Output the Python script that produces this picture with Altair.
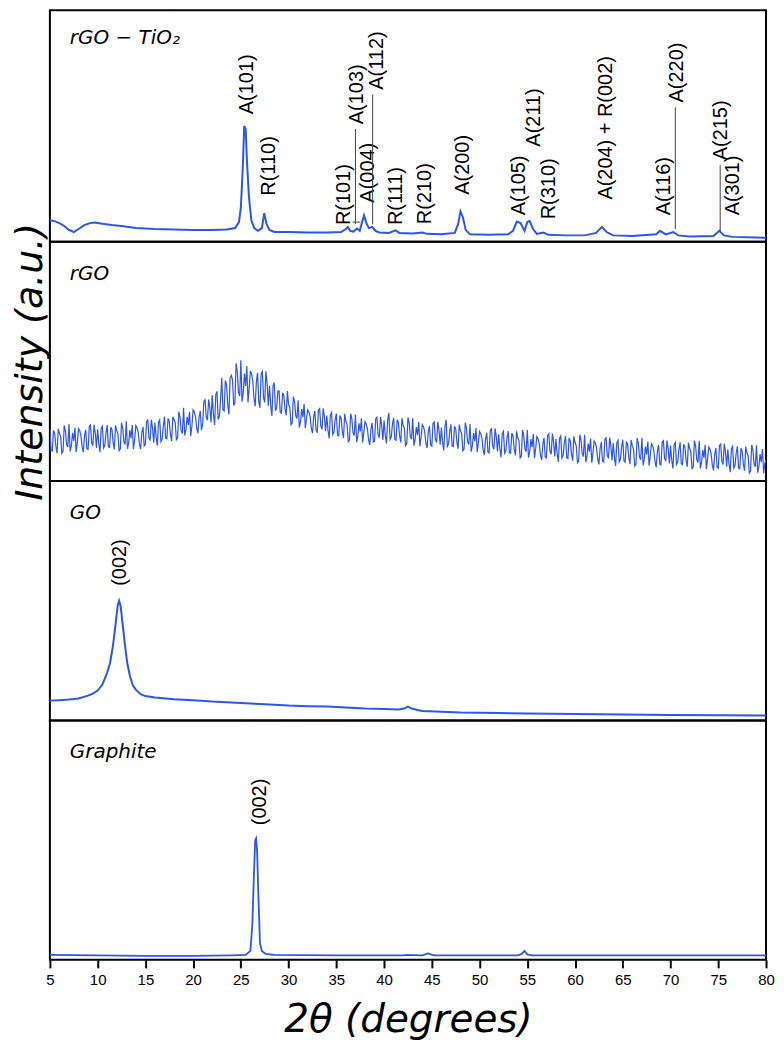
import altair as alt
import pandas as pd

BLUE = "#2d55f0"

# ---------------- x axis ----------------
x_ticks = [5, 10, 15, 20, 25, 30, 35, 40, 45, 50, 55, 60, 65, 70, 75, 80]

# ---------------- rGO - TiO2 ----------------
tio2_x = [5.0, 5.5, 6.0, 6.5, 7.0, 7.5, 8.0, 8.6, 9.2, 9.7, 10.5, 11.5, 12.5, 14.0, 16.0, 18.0,
          20.0, 22.0, 23.5, 24.4, 24.8, 25.0, 25.2, 25.35, 25.5, 25.65, 25.85, 26.1, 26.4, 26.8,
          27.2, 27.45, 27.7, 28.0, 28.5, 30.0, 32.0, 34.0, 35.5, 36.0, 36.2, 36.45, 36.8, 37.15,
          37.45, 37.7, 37.9, 38.15, 38.4, 38.75, 39.1, 39.5, 40.5, 41.2, 41.6, 43.0, 44.0, 44.5,
          46.0, 47.4, 47.75, 48.0, 48.25, 48.55, 49.0, 51.0, 53.0, 53.5, 53.9, 54.3, 54.7, 55.0,
          55.25, 55.6, 56.0, 56.7, 57.2, 59.0, 61.0, 62.2, 62.8, 63.3, 64.0, 66.0, 68.5, 68.9,
          69.5, 70.0, 70.3, 70.8, 72.0, 74.5, 75.1, 75.6, 76.5, 78.0, 80.0]
tio2_y = [9.3, 8.9, 8.05, 6.8, 5.1, 4.2, 5.5, 7.2, 8.05, 8.3, 7.8, 7.2, 6.8, 5.9, 5.5, 5.3,
          5.1, 5.1, 5.3, 5.9, 8.5, 14.8, 31.8, 50.0, 48.7, 33.9, 19.1, 9.3, 5.9, 4.7,
          5.9, 12.3, 7.6, 5.1, 4.2, 4.2, 4.0, 4.0, 4.2, 5.5, 6.4, 4.7, 4.4, 5.7,
          4.7, 8.5, 11.4, 8.05, 5.9, 6.4, 4.7, 4.0, 3.8, 4.9, 3.8, 3.6, 4.0, 3.4,
          3.2, 3.8, 7.6, 13.1, 10.6, 5.1, 3.2, 3.0, 3.2, 4.7, 8.7, 8.05, 4.7, 8.5,
          8.9, 5.5, 3.4, 4.0, 3.0, 2.75, 2.75, 3.8, 6.4, 4.2, 2.75, 2.5, 3.2, 4.7,
          3.2, 3.8, 4.2, 2.75, 2.3, 2.5, 4.7, 2.75, 2.1, 1.9, 1.7]

tio2_labels = ["A(101)", "R(110)", "R(101)", "A(103)", "A(004)", "A(112)", "R(111)", "R(210)",
               "A(200)", "A(105)", "A(211)", "R(310)", "A(204) + R(002)", "A(116)", "A(220)",
               "A(215)", "A(301)"]
tio2_label_x = [25.6, 28.0, 35.85, 37.2, 38.27, 39.3, 41.2, 44.26, 48.3, 54.1, 55.7, 57.3,
                63.2, 69.27, 70.65, 75.3, 76.5]
tio2_label_y = [55.1, 19.9, 7.2, 50.8, 16.9, 65.7, 7.2, 7.6, 20.3, 11.4, 41.1, 9.7,
                18.2, 11.4, 60.2, 35.2, 11.4]

lead_x = [37.0, 38.8, 70.5, 75.2]
lead_top = [48.7, 63.6, 58.1, 33.1]
lead_bottom = [7.6, 7.6, 5.5, 4.2]
dash_x = [36.7]
dash_x2 = [37.5]
dash_y = [8.5]

# ---------------- rGO (noisy) ----------------
# series A: read at 5.000, 5.250, 5.500, ... 80.000
rgo_a_start = 5.0
# series B: read at 5.125, 5.375, 5.625, ... 79.875
rgo_b_start = 5.125
rgo_step = 0.25
rgo_a = [
    21.9, 12.6, 20.0, 11.7,  20.0, 11.6, 23.3, 15.3,  23.9, 14.9, 16.8, 12.2,
    21.9, 19.1, 12.1, 21.4,  13.3, 23.4, 14.8, 20.1,  21.7, 12.1, 22.9, 14.8,
    23.4, 14.1, 21.5, 13.2,  21.1, 12.7, 24.4, 16.4,  25.0, 16.0, 17.9, 13.3,
    23.2, 20.4, 13.4, 22.7,  15.4, 25.5, 16.9, 22.2,  24.4, 14.8, 25.6, 17.5,
    27.0, 17.7, 25.1, 16.8,  25.7, 17.3, 29.0, 21.0,  30.6, 21.6, 23.5, 18.9,
    29.8, 27.0, 20.0, 29.3,  23.9, 34.0, 25.4, 30.7,  36.0, 23.5, 37.5, 27.0,
    43.2, 29.3, 40.4, 27.9,  44.2, 31.6, 49.2, 37.2,  50.5, 37.0, 39.8, 32.9,
    46.0, 41.8, 31.3, 45.3,  30.6, 45.8, 32.9, 40.8,  39.7, 27.2, 41.2, 30.7,
    37.7, 28.4, 35.8, 27.5,  32.0, 23.6, 35.3, 27.3,  33.8, 24.8, 26.7, 22.1,
    29.8, 27.0, 20.0, 29.3,  20.2, 30.3, 21.7, 27.0,  27.4, 17.8, 28.6, 20.5,
    28.2, 18.9, 26.3, 18.0,  24.9, 16.5, 28.2, 20.2,  27.8, 18.8, 20.7, 16.1,
    24.8, 22.0, 15.0, 24.3,  16.6, 26.7, 18.1, 23.4,  25.3, 15.7, 28.5, 18.4,
    26.4, 17.1, 24.5, 16.2,  23.3, 14.9, 26.6, 18.6,  26.3, 17.3, 19.2, 14.6,
    23.6, 20.8, 13.8, 23.1,  14.6, 24.7, 16.1, 21.4,  22.4, 12.8, 25.6, 15.5,
    23.7, 14.4, 21.8, 13.5,  21.1, 12.7, 24.4, 16.4,  23.8, 14.8, 16.7, 12.1,
    20.7, 17.9, 10.9, 20.2,  11.8, 21.9, 13.3, 18.6,  19.6, 10.0, 20.8, 12.7,
    20.9, 11.6, 19.0, 10.7,  18.1, 9.7, 21.4, 13.4,  21.3, 12.3, 14.2, 9.6,
    18.6, 15.8, 8.8, 18.1,  9.7, 19.8, 11.2, 16.5,  17.6, 8.0, 18.8, 10.7,
    18.8, 9.5, 16.9, 8.6,  16.1, 7.7, 19.4, 11.4,  19.4, 10.4, 12.3, 7.7,
    16.8, 14.0, 7.0, 16.3,  8.0, 18.1, 9.5, 14.8,  15.9, 6.3, 17.1, 9.0,
    17.3, 8.0, 15.4, 7.1,  14.7, 6.3, 18.0, 10.0,  18.1, 9.1, 11.0, 6.4,
    15.6, 12.8, 5.8, 15.1,  6.8, 16.9, 8.3, 13.6,  14.9, 5.3, 16.1, 8.0,
    16.2, 6.9, 14.3, 6.0,  13.6, 5.2, 16.9, 8.9,  16.8, 7.8, 9.7, 5.1,
    14.3, 11.5, 4.5, 13.8,  5.4, 15.5, 6.9, 12.2,  13.3, 3.7, 14.5, 6.4,
    14.5, 5.2, 12.6, 4.3,  11.8, 3.4, 15.1, 7.1,  15.0, 6.0, 7.9, 3.3,
    9.0,
]
rgo_b = [
    12.9, 21.1, 14.5, 21.8,  18.7, 12.3, 21.1, 14.2,  12.4, 20.2, 22.3, 16.2,
    21.0, 14.3, 18.8, 13.4,  22.8, 16.1, 23.5, 13.9,  15.6, 21.9, 13.8, 20.1,
    14.4, 22.6, 16.0, 23.3,  19.8, 13.4, 22.2, 15.3,  13.5, 21.3, 23.4, 17.3,
    22.3, 15.6, 20.1, 14.7,  24.9, 18.2, 25.6, 16.0,  18.3, 24.6, 16.5, 22.8,
    18.0, 26.2, 19.6, 26.9,  24.4, 18.0, 26.8, 19.9,  19.1, 26.9, 29.0, 22.9,
    28.9, 22.2, 26.7, 21.3,  33.4, 26.7, 34.1, 24.5,  28.0, 36.2, 25.7, 33.9,
    29.7, 42.0, 32.1, 43.1,  42.3, 32.7, 45.9, 35.5,  33.2, 44.9, 48.1, 38.9,
    44.7, 34.6, 41.4, 33.3,  44.9, 34.8, 45.9, 31.5,  31.8, 39.9, 29.4, 37.6,
    28.7, 36.9, 30.3, 37.6,  30.7, 24.3, 33.1, 26.2,  22.3, 30.1, 32.2, 26.1,
    28.9, 22.2, 26.7, 21.3,  29.7, 23.0, 30.4, 20.8,  21.3, 27.6, 19.5, 25.8,
    19.2, 27.4, 20.8, 28.1,  23.6, 17.2, 26.0, 19.1,  16.3, 24.1, 26.2, 20.1,
    23.9, 17.2, 21.7, 16.3,  26.1, 19.4, 26.8, 17.2,  19.2, 25.5, 17.4, 23.7,
    17.4, 25.6, 19.0, 26.3,  22.0, 15.6, 24.4, 17.5,  14.8, 22.6, 24.7, 18.6,
    22.7, 16.0, 20.5, 15.1,  24.1, 17.4, 24.8, 15.2,  16.3, 22.6, 14.5, 20.8,
    14.7, 22.9, 16.3, 23.6,  19.8, 13.4, 22.2, 15.3,  12.3, 20.1, 22.2, 16.1,
    19.8, 13.1, 17.6, 12.2,  21.3, 14.6, 22.0, 12.4,  13.5, 19.8, 11.7, 18.0,
    11.9, 20.1, 13.5, 20.8,  16.8, 10.4, 19.2, 12.3,  9.8, 17.6, 19.7, 13.6,
    17.7, 11.0, 15.5, 10.1,  19.2, 12.5, 19.9, 10.3,  11.5, 17.8, 9.7, 16.0,
    9.8, 18.0, 11.4, 18.7,  14.8, 8.4, 17.2, 10.3,  7.9, 15.7, 17.8, 11.7,
    15.9, 9.2, 13.7, 8.3,  17.5, 10.8, 18.2, 8.6,  9.8, 16.1, 8.0, 14.3,
    8.3, 16.5, 9.9, 17.2,  13.4, 7.0, 15.8, 8.9,  6.6, 14.4, 16.5, 10.4,
    14.7, 8.0, 12.5, 7.1,  16.3, 9.6, 17.0, 7.4,  8.8, 15.1, 7.0, 13.3,
    7.2, 15.4, 8.8, 16.1,  12.3, 5.9, 14.7, 7.8,  5.3, 13.1, 15.2, 9.1,
    13.4, 6.7, 11.2, 5.8,  14.9, 8.2, 15.6, 6.0,  7.2, 13.5, 5.4, 11.7,
    5.5, 13.7, 7.1, 14.4,  10.5, 4.1, 12.9, 6.0,  3.5, 11.3, 13.4, 7.3,
]

# ---------------- GO ----------------
go_x = [5, 6, 7, 8, 9, 9.5, 10, 10.5, 11, 11.3, 11.6, 11.9, 12.1, 12.25, 12.4, 12.6, 12.85,
        13.1, 13.4, 13.7, 14.0, 14.5, 15, 16, 18, 20, 22, 24, 26, 28, 30, 32, 34, 36, 38, 40,
        41.5, 42.1, 42.5, 42.9, 43.5, 44, 46, 48, 52, 55, 60, 65, 70, 75, 80]
go_y = [8.3, 8.5, 8.75, 9.2, 10.4, 11.2, 12.5, 15.0, 20.0, 24.0, 31.0, 41.0, 48.0, 50.0, 48.0,
        41.0, 32.0, 24.0, 18.3, 14.6, 12.9, 11.0, 10.2, 9.6, 8.9, 8.5, 7.9, 7.5, 7.1, 6.7, 6.25,
        6.0, 5.8, 5.4, 5.0, 4.8, 4.6, 5.0, 5.8, 5.0, 4.4, 4.0, 3.7, 3.3, 3.1, 2.9, 2.7, 2.5,
        2.3, 2.2, 2.1]
go_label_x = [12.3]
go_label_y = [56.25]

# ---------------- Graphite ----------------
gr_x = [5, 10, 15, 20, 24, 25.5, 26.0, 26.2, 26.35, 26.5, 26.6, 26.7, 26.85, 27.0, 27.2, 27.6,
        28.5, 35, 42, 42.4, 44.0, 44.6, 45.2, 54.0, 54.4, 54.7, 55.0, 55.5, 65, 77.5, 80]
gr_y = [2.1, 1.9, 1.7, 1.7, 1.9, 2.1, 3.75, 14.6, 33.3, 50.0, 50.8, 45.8, 25.0, 7.1, 3.75, 2.5,
        2.1, 1.9, 1.9, 2.1, 1.9, 2.7, 1.9, 1.9, 2.5, 3.75, 2.3, 1.9, 1.9, 1.9, 1.9]
gr_label_x = [27.0]
gr_label_y = [56.25]

panel_names = ["rGO − TiO₂", "rGO", "GO", "Graphite"]
panel_heights = [232, 240, 240, 240]
W = 718

xscale = alt.Scale(domain=[5, 80], nice=False, zero=False)
yscale = alt.Scale(domain=[0, 100], nice=False, zero=False)


def yaxis(visible):
    if not visible:
        return None
    return alt.Axis(title="Intensity (a.u.)", labels=False, ticks=False, domain=False, grid=False,
                    titleFont="DejaVu Sans", titleFontStyle="italic", titleFontWeight="normal",
                    titleFontSize=38, titleColor="black", titlePadding=0)


def make_panel(xs, ys, idx, width_line=2.0, labels=None, extra=None, bottom=False):
    df = pd.DataFrame({"x": xs, "y": ys}).sort_values("x")
    if bottom:
        xaxis = alt.Axis(values=x_ticks, format="d", labelFont="Liberation Sans", labelFontSize=15,
                         labelColor="black", labelFlush=False, labelPadding=5, tickColor="black",
                         tickWidth=2, tickSize=8, domain=False, grid=False,
                         title="2θ (degrees)", titleFont="DejaVu Sans", titleFontStyle="italic",
                         titleFontWeight="normal", titleFontSize=39, titleColor="black",
                         titlePadding=13)
    else:
        xaxis = None
    line = alt.Chart(df).mark_line(color=BLUE, strokeWidth=width_line, clip=True).encode(
        x=alt.X("x:Q", scale=xscale, axis=xaxis),
        y=alt.Y("y:Q", scale=yscale, axis=yaxis(idx == 1)),
        order="x:Q",
    )
    layers = [line]
    name = alt.Chart(pd.DataFrame({"t": [panel_names[idx]]})).mark_text(
        align="left", baseline="alphabetic", font="DejaVu Sans", fontStyle="italic",
        fontSize=20, color="black").encode(
        text="t:N", x=alt.value(20), y=alt.value(34 if idx == 0 else 38))
    layers.append(name)
    if labels is not None:
        ldf = pd.DataFrame({"t": labels[0], "x": labels[1], "y": labels[2]})
        layers.append(alt.Chart(ldf).mark_text(
            angle=270, align="left", baseline="middle", font="Liberation Sans", fontSize=20,
            color="black").encode(
            x=alt.X("x:Q", scale=xscale), y=alt.Y("y:Q", scale=yscale), text="t:N"))
    if extra is not None:
        layers.extend(extra)
    return alt.layer(*layers).properties(width=W, height=panel_heights[idx])


lead_df = pd.DataFrame({"x": lead_x, "y": lead_top, "y2": lead_bottom})
leaders = alt.Chart(lead_df).mark_rule(color="#444444", strokeWidth=1).encode(
    x=alt.X("x:Q", scale=xscale), y=alt.Y("y:Q", scale=yscale), y2="y2:Q")
dash_df = pd.DataFrame({"x": dash_x, "x2": dash_x2, "y": dash_y})
dash = alt.Chart(dash_df).mark_rule(color="#444444", strokeWidth=1).encode(
    x=alt.X("x:Q", scale=xscale), x2="x2:Q", y=alt.Y("y:Q", scale=yscale))

p1 = make_panel(tio2_x, tio2_y, 0, 2.0,
                labels=(tio2_labels, tio2_label_x, tio2_label_y), extra=[leaders, dash])
rgo_x = ([rgo_a_start + rgo_step * i for i in range(len(rgo_a))] +
         [rgo_b_start + rgo_step * i for i in range(len(rgo_b))])
p2 = make_panel(rgo_x, rgo_a + rgo_b, 1, 1.2)
p3 = make_panel(go_x, go_y, 2, 2.0, labels=(["(002)"], go_label_x, go_label_y))
p4 = make_panel(gr_x, gr_y, 3, 1.8, labels=(["(002)"], gr_label_x, gr_label_y), bottom=True)

chart = alt.vconcat(p1, p2, p3, p4, spacing=0, bounds="flush").properties(
    padding={"left": 2, "top": 0, "right": 0, "bottom": 0},
    background="white",
).configure_view(stroke="black", strokeWidth=2)

chart.save("out.html", embed_options={"renderer": "svg", "actions": False})
